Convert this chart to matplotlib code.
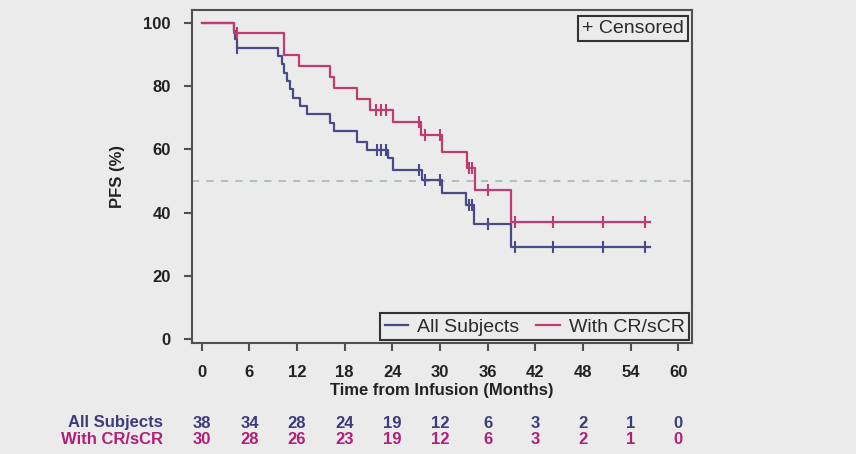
import numpy as np
import matplotlib
matplotlib.use("Agg")
import matplotlib.pyplot as plt
import matplotlib.transforms as mtransforms
from matplotlib.lines import Line2D

plt.rcParams['font.family'] = ['Liberation Sans', 'DejaVu Sans']

# ---- data ----
series_names = ["All Subjects", "With CR/sCR"]

all_times = [0, 4.0, 4.2, 4.4, 9.65, 10.1, 10.4, 10.7, 11.1, 11.5, 12.4, 13.2,
             16.1, 16.6, 19.5, 20.8, 23.4, 24.1, 27.7, 30.2, 33.3, 34.3, 39.0]
all_surv = [100, 97.4, 94.7, 92.1, 89.5, 86.8, 84.2, 81.6, 78.9, 76.3, 73.7, 71.1,
            68.4, 65.8, 62.4, 59.8, 57.2, 53.5, 50.3, 46.1, 42.4, 36.4, 29.0]
all_censor = [4.5, 22.1, 22.6, 23.2, 27.3, 28.1, 30.0, 33.6, 34.0, 36.1,
              39.4, 44.2, 50.5, 55.8]
all_end = 56.5

cr_times = [0, 4.1, 10.4, 12.2, 16.2, 16.6, 19.5, 21.2, 24.1, 27.6, 30.2,
            33.4, 34.4, 39.0]
cr_surv = [100, 96.7, 89.8, 86.3, 82.9, 79.4, 76.0, 72.5, 68.5, 64.5, 59.2,
           54.0, 47.1, 37.1]
cr_censor = [4.4, 22.0, 22.6, 23.2, 27.3, 28.1, 30.0, 33.6, 34.0, 36.1,
             39.4, 44.2, 50.5, 55.8]
cr_end = 56.5

risk_times = [0, 6, 12, 18, 24, 30, 36, 42, 48, 54, 60]
risk_all = [38, 34, 28, 24, 19, 12, 6, 3, 2, 1, 0]
risk_cr = [30, 28, 26, 23, 19, 12, 6, 3, 2, 1, 0]

x_ticks = [0, 6, 12, 18, 24, 30, 36, 42, 48, 54, 60]
y_ticks = [0, 20, 40, 60, 80, 100]

# ---- style ----
BG = '#ebebeb'
BLUE = '#4a4a88'
PINK = '#c23a72'
BLUE_T = '#3c3c7c'
PINK_T = '#b01f78'
SPINE = '#505050'

fig = plt.figure(figsize=(8.56, 4.54), dpi=100, facecolor=BG)
ax = fig.add_axes([0.224, 0.2438, 0.5846, 0.7342], facecolor=BG)


def step_value(times, surv, t):
    idx = np.searchsorted(np.asarray(times), t, side='right') - 1
    return np.asarray(surv)[idx]


def draw_km(times, surv, censor, end, color):
    xs = list(times) + [end]
    ys = list(surv) + [surv[-1]]
    ax.step(xs, ys, where='post', color=color, lw=1.6, zorder=3)
    cy = [step_value(times, surv, c) for c in censor]
    ax.plot(censor, cy, linestyle='none', marker='|', markersize=8,
            markeredgewidth=1.5, color=color, zorder=4)


ax.axhline(50, color='#a9bdbb', lw=1.3, dashes=(4, 4), zorder=1)
draw_km(all_times, all_surv, all_censor, all_end, BLUE)
draw_km(cr_times, cr_surv, cr_censor, cr_end, PINK)

ax.set_xlim(-1.26, 61.75)
ax.set_ylim(-1.26, 104)
ax.set_xticks(x_ticks)
ax.set_yticks(y_ticks)
ax.tick_params(axis='both', direction='out', length=6, width=1.5,
               color=SPINE, labelsize=12, labelcolor='#222222')
ax.tick_params(axis='x', pad=9.5)
ax.tick_params(axis='y', pad=9)
for lab in ax.get_xticklabels() + ax.get_yticklabels():
    lab.set_fontweight('bold')
for s in ax.spines.values():
    s.set_color(SPINE)
    s.set_linewidth(1.5)

ax.set_xlabel('Time from Infusion (Months)', fontsize=12, fontweight='bold',
              color='#222222', labelpad=2)
ax.set_ylabel('PFS (%)', fontsize=12, fontweight='bold', color='#222222',
              labelpad=13)

handles = [Line2D([], [], color=BLUE, lw=1.6), Line2D([], [], color=PINK, lw=1.6)]
leg = ax.legend(handles, series_names, loc='lower right', ncol=2, fontsize=14,
                frameon=True, fancybox=False, edgecolor='#333333',
                facecolor=BG, framealpha=1, handlelength=1.2,
                handletextpad=0.45, columnspacing=0.9, borderpad=0.25,
                borderaxespad=0.15)
leg.get_frame().set_linewidth(1.5)
for t in leg.get_texts():
    t.set_color('#2a2a2a')

ax.text(0.983, 0.97, '+ Censored', transform=ax.transAxes, ha='right',
        va='top', fontsize=14, color='#2a2a2a',
        bbox=dict(boxstyle='square,pad=0.22', facecolor=BG,
                  edgecolor='#333333', linewidth=1.5))

# ---- number at risk table ----
trans = mtransforms.blended_transform_factory(ax.transData, fig.transFigure)
row_y = [1 - 423 / 454, 1 - 440 / 454]
fig.text(163 / 856, row_y[0], series_names[0], ha='right', va='center',
         fontsize=12, fontweight='bold', color=BLUE_T)
fig.text(163 / 856, row_y[1], series_names[1], ha='right', va='center',
         fontsize=12, fontweight='bold', color=PINK_T)
for t, a, c in zip(risk_times, risk_all, risk_cr):
    ax.text(t, row_y[0], str(a), transform=trans, ha='center', va='center',
            fontsize=12, fontweight='bold', color=BLUE_T, clip_on=False)
    ax.text(t, row_y[1], str(c), transform=trans, ha='center', va='center',
            fontsize=12, fontweight='bold', color=PINK_T, clip_on=False)

fig.savefig('out.png', dpi=100, facecolor=BG)
